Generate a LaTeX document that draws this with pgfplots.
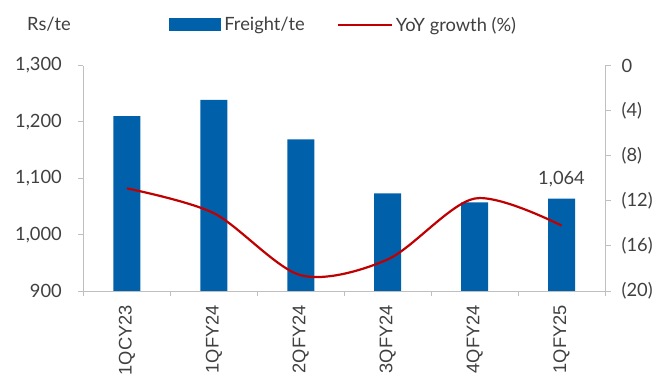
\documentclass[border=0pt]{standalone}
\usepackage{pgfplots}
\pgfplotsset{compat=1.18}
\usepackage{fontspec}
\setmainfont{Lato}
\newfontfamily\arialfont{Liberation Sans}
\definecolor{barblue}{HTML}{0061AA}
\definecolor{linered}{HTML}{C00000}
\definecolor{axgray}{HTML}{BFBFBF}
\definecolor{txt}{HTML}{404040}
\newcommand\fs{\fontsize{18.3}{21}\selectfont}
\begin{document}
\begin{tikzpicture}
\begin{axis}[
  at={(0,0)}, anchor=south west,
  scale only axis, width=521.5pt, height=225.5pt,
  clip=false,
  xmin=-0.5, xmax=5.5, ymin=900, ymax=1300,
  axis x line*=bottom, axis y line*=left,
  axis line style={-, axgray, line width=0.8pt},
  tick style={axgray, line width=0.8pt},
  tick align=outside, major tick length=5pt,
  ytick={900,1000,...,1300},
  /pgf/number format/assume math mode=true,
  /pgf/number format/1000 sep={,},
  yticklabel style={font=\fs, text=txt, anchor=east, inner sep=0pt, xshift=-16.5pt},
  xtick={-0.5,0.5,...,5.5}, xticklabels={},
  extra x ticks={0,1,2,3,4,5},
  extra x tick labels={1QCY23,1QFY24,2QFY24,3QFY24,4QFY24,1QFY25},
  extra x tick style={major tick length=0pt,
    xticklabel style={font=\arialfont\fs, text=txt, yshift=-14pt, rotate=90, anchor=east, inner sep=0pt}},
  legend style={at={(0.5,1.18)}, anchor=center, draw=none, fill=none,
    legend columns=2, font=\fs, text=txt,
    /tikz/every even column/.append style={column sep=29pt},
    nodes={inner sep=3pt}},
]
\addplot[ybar, bar width=27pt, fill=barblue, draw=none,
  legend image code/.code={\fill[barblue] (0pt,-6.5pt) rectangle (52pt,6.5pt);}]
  coordinates {(0,1210) (1,1239) (2,1169) (3,1073) (4,1057) (5,1064)};
\addlegendentry{Freight/te}
\addlegendimage{legend image code/.code={\draw[linered, line width=2.2pt] (0pt,0pt) -- (54pt,0pt);}}
\addlegendentry{YoY growth (\%)}
\node[font=\fs, text=txt, anchor=base, inner sep=0pt] at (axis cs:5,1064) [yshift=14pt] {1,064};
\node[font=\fs, text=txt] at (axis description cs:-0.0662,1.182) {Rs/te};
\end{axis}
\begin{axis}[
  at={(0,0)}, anchor=south west,
  scale only axis, width=521.5pt, height=225.5pt,
  xmin=-0.5, xmax=5.5, ymin=0, ymax=20, y dir=reverse,
  axis y line*=right, axis x line=none,
  axis line style={-, axgray, line width=0.8pt},
  tick style={axgray, line width=0.8pt},
  tick align=outside, major tick length=6pt,
  ytick={0,4,8,12,16,20},
  yticklabels={0,(4),(8),(12),(16),(20)},
  yticklabel style={font=\fs, text=txt, anchor=west, inner sep=0pt, xshift=10.5pt},
]
\addplot[linered, line width=2.2pt, smooth]
  coordinates {(0,10.9) (1,13.1) (2,18.6) (3,17.2) (4,11.8) (5,14.2)};
\end{axis}
\pgfresetboundingbox
\path[use as bounding box] (-83.5pt,-83pt) rectangle (573.5pt,291pt);
\end{tikzpicture}
\end{document}
